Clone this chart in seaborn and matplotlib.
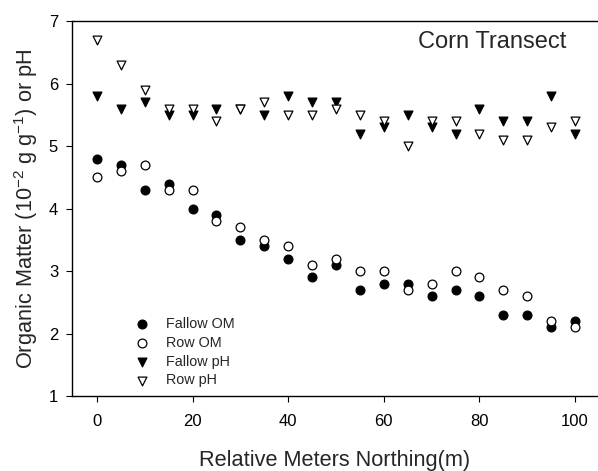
import matplotlib
matplotlib.use('Agg')
import matplotlib.pyplot as plt
import numpy as np
import pandas as pd
import seaborn as sns

sns.set_style("white")
plt.rcParams['font.family'] = ['Liberation Sans', 'DejaVu Sans']
plt.rcParams['mathtext.fontset'] = 'custom'
plt.rcParams['mathtext.rm'] = 'Liberation Sans'
plt.rcParams['mathtext.it'] = 'Liberation Sans:italic'

meters = [0, 5, 10, 15, 20, 25, 30, 35, 40, 45, 50, 55, 60, 65, 70, 75, 80, 85, 90, 95, 100]
fallow_om = [4.8, 4.7, 4.3, 4.4, 4.0, 3.9, 3.5, 3.4, 3.2, 2.9, 3.1, 2.7, 2.8, 2.8, 2.6, 2.7, 2.6, 2.3, 2.3, 2.1, 2.2]
row_om = [4.5, 4.6, 4.7, 4.3, 4.3, 3.8, 3.7, 3.5, 3.4, 3.1, 3.2, 3.0, 3.0, 2.7, 2.8, 3.0, 2.9, 2.7, 2.6, 2.2, 2.1]
fallow_ph = [5.8, 5.6, 5.7, 5.5, 5.5, 5.6, 5.6, 5.5, 5.8, 5.7, 5.7, 5.2, 5.3, 5.5, 5.3, 5.2, 5.6, 5.4, 5.4, 5.8, 5.2]
row_ph = [6.7, 6.3, 5.9, 5.6, 5.6, 5.4, 5.6, 5.7, 5.5, 5.5, 5.6, 5.5, 5.4, 5.0, 5.4, 5.4, 5.2, 5.1, 5.1, 5.3, 5.4]

series = [
    ("Fallow OM", fallow_om, "o", "black"),
    ("Row OM", row_om, "o", "white"),
    ("Fallow pH", fallow_ph, "v", "black"),
    ("Row pH", row_ph, "v", "white"),
]

fig = plt.figure(figsize=(5.98, 4.71), dpi=100)
ax = fig.add_axes([0.1204, 0.1592, 0.8796, 0.7962])

for name, vals, mk, fc in series:
    df = pd.DataFrame({"m": meters, "v": vals})
    sns.scatterplot(data=df, x="m", y="v", marker=mk, s=40, color=fc,
                    edgecolor="black", linewidth=0.9, label=name, ax=ax, zorder=3)

ax.set_xlim(-5.2, 104.8)
ax.set_ylim(1, 7)
ax.set_xticks([0, 20, 40, 60, 80, 100])
ax.set_yticks([1, 2, 3, 4, 5, 6, 7])
ax.tick_params(axis='both', direction='out', length=4, width=0.8, labelsize=12,
               left=True, bottom=True, colors='black')
ax.tick_params(axis='x', pad=9)
ax.tick_params(axis='y', pad=6)
for side in ['left', 'bottom', 'top']:
    ax.spines[side].set_visible(True)
    ax.spines[side].set_color('black')
    ax.spines[side].set_linewidth(1.0)
ax.spines['right'].set_visible(False)

ax.set_xlabel("Relative Meters Northing(m)", fontsize=15.7, labelpad=15)
ax.set_ylabel("Organic Matter (10$^{-2}$ g g$^{-1}$) or pH", fontsize=15.7, labelpad=6)
ax.text(0.939, 0.944, "Corn Transect", transform=ax.transAxes, ha='right', va='center', fontsize=17)

ax.legend(loc='lower left', bbox_to_anchor=(0.09, 0.0), frameon=False, fontsize=10.4,
          handletextpad=0.6, labelspacing=0.33, borderaxespad=0.2)

fig.savefig("out.png", dpi=100)
